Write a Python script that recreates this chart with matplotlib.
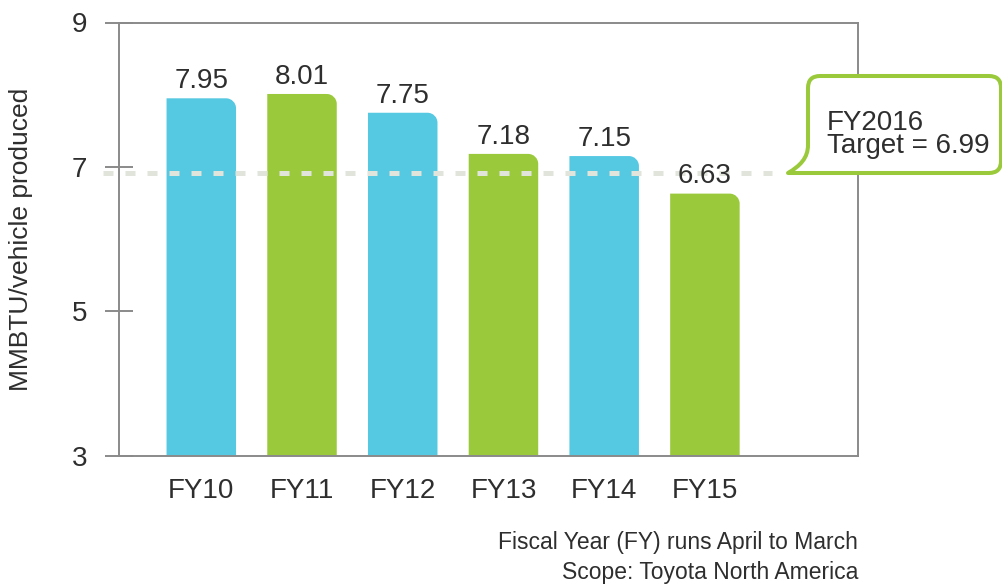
import numpy as np
import matplotlib.pyplot as plt
from matplotlib.path import Path
from matplotlib.patches import PathPatch

plt.rcParams['font.family'] = ['Liberation Sans', 'DejaVu Sans']

years = ["FY10", "FY11", "FY12", "FY13", "FY14", "FY15"]
values = [7.95, 8.01, 7.75, 7.18, 7.15, 6.63]
bar_colors = ["#55c8e2", "#9aca3c", "#55c8e2", "#9aca3c", "#55c8e2", "#9aca3c"]
target = 6.99
target_line = 6.91   # where the dashed line sits in the picture
y_ticks = [3, 5, 7, 9]
notes = ["Fiscal Year (FY) runs April to March", "Scope: Toyota North America"]

W, H = 1003, 585
fig = plt.figure(figsize=(W / 100, H / 100), dpi=100)
ax = fig.add_axes([119 / W, 1 - 455.7 / H, (858 - 119) / W, (455.7 - 22.5) / H])
ax.set_xlim(-0.817, 6.52)
ax.set_ylim(3, 9)

txt = '#2e2e2e'
grey = '#8a8a8a'

# bars with a rounded top-right corner
x = np.arange(len(years))
bw = 0.69
px_x = ax.bbox.width / (6.52 + 0.817)
px_y = ax.bbox.height / 6.0
rx, ry = 10 / px_x, 10 / px_y
k = 0.5523
for xi, v, c in zip(x, values, bar_colors):
    x0, x1 = xi - bw / 2, xi + bw / 2
    verts = [(x0, 3), (x1, 3), (x1, v - ry),
             (x1, v - ry + k * ry), (x1 - rx + k * rx, v), (x1 - rx, v),
             (x0, v), (x0, 3)]
    codes = [Path.MOVETO, Path.LINETO, Path.LINETO,
             Path.CURVE4, Path.CURVE4, Path.CURVE4,
             Path.LINETO, Path.CLOSEPOLY]
    ax.add_patch(PathPatch(Path(verts, codes), facecolor=c, edgecolor='none', zorder=2))
    ax.annotate("{:.2f}".format(v), (xi, v), xytext=(0, 3), textcoords='offset points',
                ha='center', va='bottom', fontsize=20, color=txt, zorder=5)

# target dashed line
ax.plot([-0.0217, 0.8836], [target_line, target_line], transform=ax.get_yaxis_transform(),
        color='#e1e4db', lw=3.6, dashes=(2.0, 2.4), solid_capstyle='butt',
        dash_capstyle='butt', clip_on=False, zorder=3)

ax.set_xticks(x)
ax.set_xticklabels(years)
ax.set_yticks(y_ticks)
ax.tick_params(axis='y', direction='inout', length=19.5, width=1.4, color=grey,
               pad=13, labelsize=20, labelcolor=txt)
ax.tick_params(axis='x', length=0, pad=16, labelsize=20, labelcolor=txt)
for s in ax.spines.values():
    s.set_color(grey)
    s.set_linewidth(1.4)

ax.set_ylabel("MMBTU/vehicle produced", fontsize=19, color=txt)
ax.yaxis.set_label_coords(-0.117, 0.5)

# callout bubble (pixel coords, y measured from the top)
L, T, R, B, r = 808, 76, 1001, 173, 12
pts = [(L, T + r), (L, T), (L + r, T), (R - r, T), (R, T), (R, T + r),
       (R, B - r), (R, B), (R - r, B), (788, B),
       (800, 166), (L, 158), (L, 145), (L, T + r), (L, T + r)]
cds = [Path.MOVETO, Path.CURVE3, Path.CURVE3, Path.LINETO, Path.CURVE3, Path.CURVE3,
       Path.LINETO, Path.CURVE3, Path.CURVE3, Path.LINETO,
       Path.CURVE4, Path.CURVE4, Path.CURVE4, Path.LINETO, Path.CLOSEPOLY]
pts = [(px / W, 1 - py / H) for px, py in pts]
bubble = PathPatch(Path(pts, cds), facecolor='white', edgecolor='#9aca3c', lw=2.9,
                   joinstyle='round', transform=fig.transFigure, zorder=10)
fig.add_artist(bubble)
fig.text(827 / W, 1 - 153 / H, "FY2016\nTarget = {:.2f}".format(target), fontsize=20,
         color=txt, va='baseline', linespacing=0.87, zorder=11)

# footnote
fig.text(858 / W, 1 - 543 / H, notes[0], fontsize=16.5, color=txt, ha='right', va='center')
fig.text(858 / W, 1 - 572 / H, notes[1], fontsize=16.5, color=txt, ha='right', va='center')

fig.savefig("out.png", dpi=100)
